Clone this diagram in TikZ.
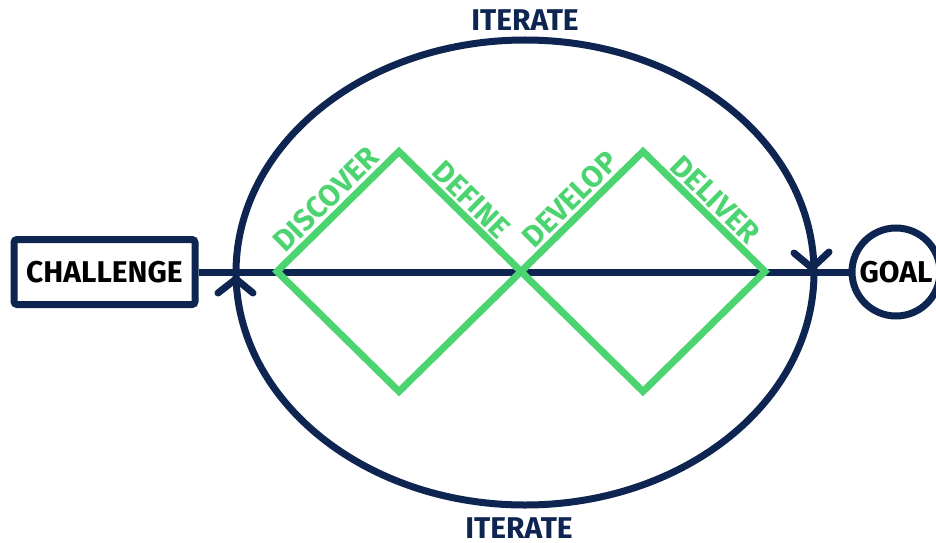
\documentclass[tikz,border=0pt]{standalone}
\usepackage{fontspec}
\setmainfont{Fira Sans}
\usetikzlibrary{calc}
\definecolor{navy}{RGB}{14,37,82}
\definecolor{dgreen}{RGB}{76,212,112}
\tikzset{
  navyline/.style={draw=navy, line width=7pt},
  greenline/.style={draw=dgreen, line width=7pt, line join=miter},
  chev/.style={draw=navy, line width=7pt, line cap=round, line join=round},
  lbl/.style={font=\fontsize{30}{30}\selectfont\bfseries, inner sep=0pt},
  glbl/.style={lbl, text=dgreen, sloped, above=6pt},
}
\begin{document}
\begin{tikzpicture}[x=1pt,y=1pt]
\useasboundingbox (0,0) rectangle (936,542);
\clip (0,0) rectangle (936,542);
% ellipse
\draw[navyline] (525,269.5) ellipse [x radius=289, y radius=232.5];
% end nodes
\node[navyline, rounded corners=3pt, minimum width=181pt, minimum height=65pt, inner sep=0pt, lbl] (chal) at (104.5,270) {CHALLENGE};
\node[navyline, circle, minimum size=88pt, inner sep=0pt, lbl] (goal) at (896,270) {GOAL};
\draw[navyline] (chal.east) -- (goal.west);
% iterate labels
\node[lbl, text=navy, anchor=base] (it1) at (525,511) {ITERATE};
\node[lbl, text=navy, anchor=base] (it2) at (519,4) {ITERATE};
% chevrons
\coordinate (c1a) at (218,249);
\coordinate (c1b) at (236,263);
\coordinate (c1c) at (253,249);
\draw[chev] (c1a) -- (c1b) -- (c1c);
\coordinate (c2a) at (794,289);
\coordinate (c2b) at (812,274);
\coordinate (c2c) at (829,290);
\draw[chev] (c2a) -- (c2b) -- (c2c);
% diamonds
\coordinate (L) at (277,270.5);
\coordinate (T1) at (399,390.5);
\coordinate (B1) at (399,150.5);
\coordinate (M) at (521,270.5);
\coordinate (T2) at (643,390.5);
\coordinate (B2) at (643,150.5);
\coordinate (R) at (765,270.5);
\draw[greenline] (L) -- (T1) -- (M) -- (T2) -- (R) -- (B2) -- (M) -- (B1) -- cycle;
\path (L) -- node[glbl] (disc) {DISCOVER} (T1);
\path (T1) -- node[glbl] (def) {DEFINE} (M);
\path (M) -- node[glbl] (dev) {DEVELOP} (T2);
\path (T2) -- node[glbl] (del) {DELIVER} (R);
\end{tikzpicture}
\end{document}
